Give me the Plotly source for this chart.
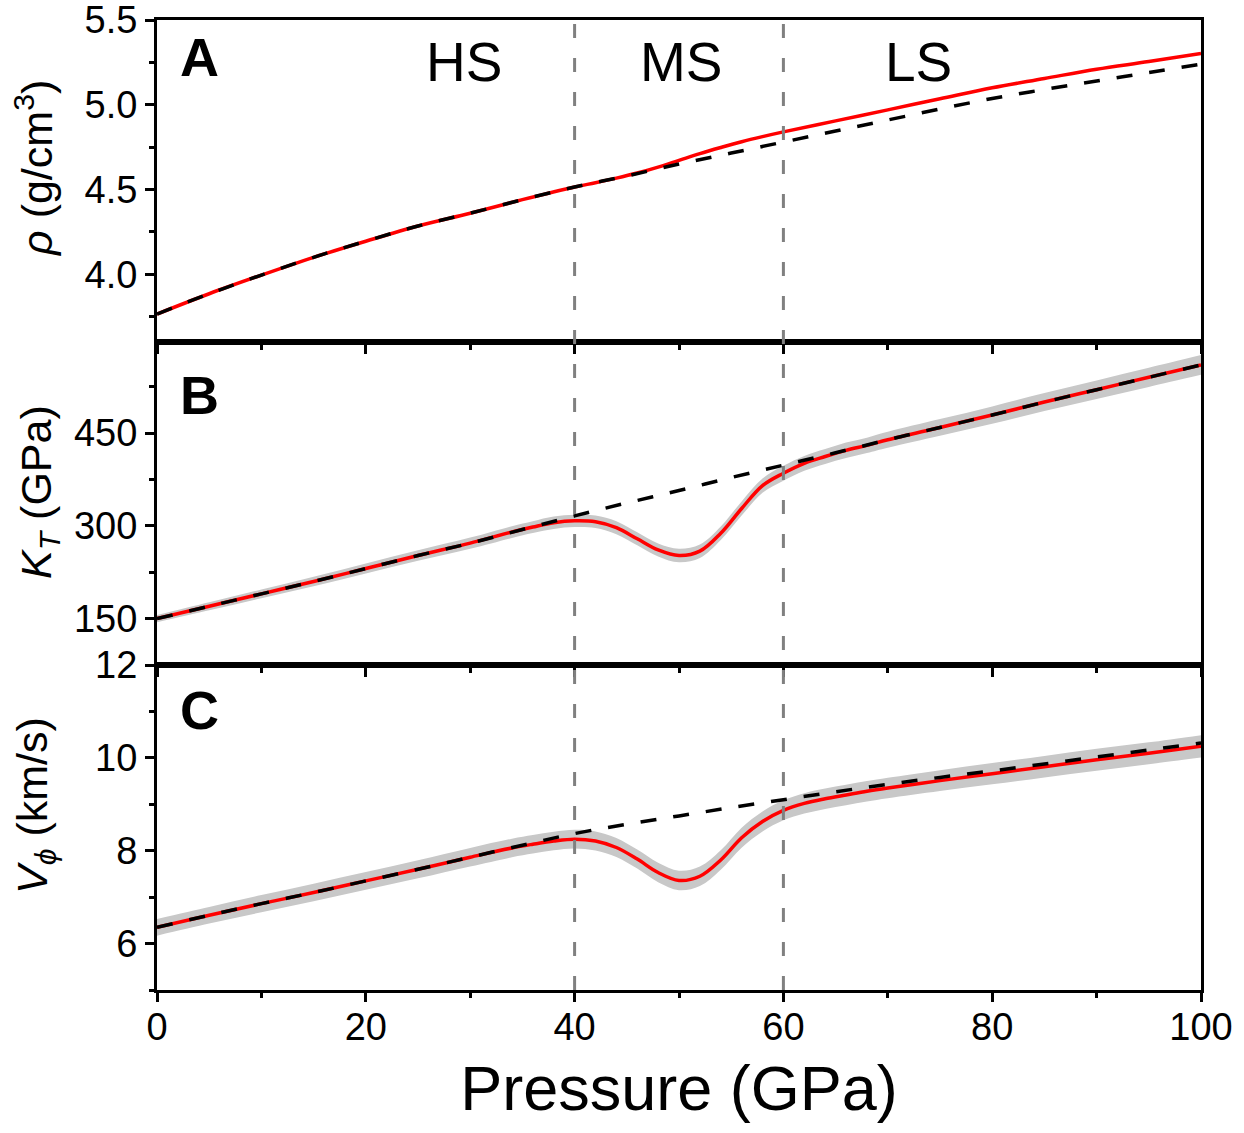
import plotly.graph_objects as go

# ---------------- data ----------------
P_ref = [0, 5, 10, 15, 20, 25, 30, 35, 40, 45, 50, 55, 60, 65, 70, 75, 80, 85, 90, 95, 100]
rho_ref = [3.765, 3.885, 3.995, 4.10, 4.195, 4.285, 4.36, 4.44, 4.515, 4.58, 4.65, 4.715,
           4.78, 4.845, 4.91, 4.975, 5.037, 5.09, 5.14, 5.19, 5.24]
K_ref = [150, 170, 190, 210, 231, 252, 272, 294, 316, 337, 357, 378, 398, 418, 439, 459,
         479, 500, 520, 540, 560]
V_ref = [6.35, 6.61, 6.86, 7.10, 7.35, 7.60, 7.86, 8.12, 8.37, 8.57, 8.75, 8.93, 9.10, 9.27,
         9.43, 9.58, 9.72, 9.87, 10.02, 10.17, 10.32]

P_rho_tr = [0, 5, 10, 15, 20, 25, 30, 35, 40, 42, 44, 46, 48, 50, 52, 54, 56, 58, 60,
            65, 70, 75, 80, 85, 90, 95, 100]
rho_tr = [3.765, 3.885, 3.995, 4.10, 4.195, 4.285, 4.36, 4.44, 4.515, 4.54, 4.567, 4.597,
          4.632, 4.672, 4.712, 4.748, 4.782, 4.812, 4.84, 4.905, 4.97, 5.035, 5.10, 5.155,
          5.21, 5.255, 5.303]

P_tr = [0, 5, 10, 15, 20, 25, 30, 34, 36, 38, 40, 42, 44, 46, 48, 50, 52, 54, 56, 58, 60,
        62, 64, 66, 68, 70, 75, 80, 85, 90, 95, 100]
K_tr = [150, 170, 190, 210, 231, 252, 272, 290, 298, 305, 308, 306.5, 297, 279, 261, 252,
        259, 288, 328, 365, 385, 401, 412, 422, 430, 439, 459, 479, 500, 520, 540, 560]
K_err = [6, 6.5, 7, 7.5, 8, 8.5, 9, 9.5, 9.5, 10, 10, 10, 10.5, 10.5, 10.5, 11, 11, 11,
         11.5, 11.5, 12, 12, 12, 12.5, 12.5, 13, 13.5, 14, 14.5, 15, 15.5, 16]
V_tr = [6.35, 6.61, 6.86, 7.10, 7.35, 7.60, 7.86, 8.06, 8.14, 8.21, 8.25, 8.21, 8.07, 7.82,
        7.53, 7.36, 7.45, 7.80, 8.28, 8.63, 8.87, 9.02, 9.12, 9.20, 9.28, 9.35, 9.51, 9.66,
        9.81, 9.96, 10.10, 10.25]
V_err = [0.18, 0.18, 0.185, 0.19, 0.19, 0.195, 0.2, 0.2, 0.2, 0.2, 0.2, 0.205, 0.205, 0.205,
         0.21, 0.21, 0.21, 0.21, 0.215, 0.215, 0.215, 0.22, 0.22, 0.22, 0.22, 0.22, 0.225,
         0.23, 0.23, 0.235, 0.235, 0.24]

x_ticks = [0, 20, 40, 60, 80, 100]
boundaries = [40, 60]
state_labels = ["HS", "MS", "LS"]
state_pos = [29.4, 50.2, 72.9]
panel_letters = ["A", "B", "C"]
y_titles = ["<i>ρ</i> (g/cm<sup>3</sup>)",
            "<i>K</i><sub><i>T</i></sub> (GPa)",
            "<i>V</i><sub><i>ϕ</i></sub> (km/s)"]

FONT = "Liberation Sans, Arial, sans-serif"
RED = "#ff0000"
BAND = "#c8c8c8"

fig = go.Figure()


def add_band(P, y, err, xa, ya):
    lower = [v - e for v, e in zip(y, err)]
    upper = [v + e for v, e in zip(y, err)]
    fig.add_trace(go.Scatter(x=P, y=lower, mode="lines", line=dict(width=0, shape="spline"),
                             xaxis=xa, yaxis=ya, showlegend=False, hoverinfo="skip"))
    fig.add_trace(go.Scatter(x=P, y=upper, mode="lines", line=dict(width=0, shape="spline"),
                             fill="tonexty", fillcolor=BAND,
                             xaxis=xa, yaxis=ya, showlegend=False, hoverinfo="skip"))


def add_lines(Pr, yr, Pd, yd, xa, ya):
    fig.add_trace(go.Scatter(x=Pr, y=yr, mode="lines",
                             line=dict(color=RED, width=3.5, shape="spline"),
                             xaxis=xa, yaxis=ya, showlegend=False))
    fig.add_trace(go.Scatter(x=Pd, y=yd, mode="lines",
                             line=dict(color="black", width=3.5, dash="16px,17px", shape="spline"),
                             xaxis=xa, yaxis=ya, showlegend=False))


# Panel A
add_lines(P_rho_tr, rho_tr, P_ref, rho_ref, "x", "y")
# Panel B
add_band(P_tr, K_tr, K_err, "x2", "y2")
add_lines(P_tr, K_tr, P_ref, K_ref, "x2", "y2")
# Panel C
add_band(P_tr, V_tr, V_err, "x3", "y3")
add_lines(P_tr, V_tr, P_ref, V_ref, "x3", "y3")

tickfont = dict(family=FONT, size=38, color="black")


def xaxis(anchor, labels):
    d = dict(range=[0, 100], anchor=anchor, showline=True, linewidth=3, linecolor="black",
             mirror=True, ticks="outside", ticklen=9, tickwidth=2.5, tickcolor="black",
             tickvals=x_ticks, showgrid=False, zeroline=False, showticklabels=labels,
             tickfont=tickfont, automargin=False, ticklabeloverflow="allow",
             minor=dict(dtick=10, tick0=0, ticks="outside", ticklen=5, tickwidth=2.5,
                        tickcolor="black", showgrid=False))
    if labels:
        d["ticklabelstandoff"] = -8
        d["title"] = dict(text="Pressure (GPa)", font=dict(family=FONT, size=63, color="black"),
                          standoff=20)
    return d


def yaxis(anchor, dom, rng, dtick, mdtick, fmt=None):
    d = dict(domain=dom, range=rng, anchor=anchor, showline=True, linewidth=3,
             linecolor="black", mirror=True, ticks="outside", ticklen=9, tickwidth=2.5,
             tickcolor="black", dtick=dtick, tick0=0, showgrid=False, zeroline=False,
             tickfont=tickfont, automargin=False, ticklabeloverflow="allow",
             minor=dict(dtick=mdtick, tick0=0, ticks="outside", ticklen=5, tickwidth=2.5,
                        tickcolor="black", showgrid=False))
    if fmt:
        d["tickformat"] = fmt
    return d


shapes = []
for b in boundaries:
    shapes.append(dict(type="line", xref="x3", yref="paper", x0=b, x1=b, y0=0, y1=1,
                       line=dict(color="#808080", width=3, dash="14px,20px"), layer="above"))

annotations = []
for lab, px in zip(state_labels, state_pos):
    annotations.append(dict(text=lab, x=px, y=0.87, xref="x", yref="y domain",
                            xanchor="center", yanchor="middle",
                            showarrow=False, font=dict(family=FONT, size=55, color="black")))
letter_y = [0.885, 0.836, 0.862]
for lab, ya, ly in zip(panel_letters, ["y", "y2", "y3"], letter_y):
    annotations.append(dict(text="<b>%s</b>" % lab, x=4.1, y=ly, xref="x", yref=ya + " domain",
                            xanchor="center", yanchor="middle",
                            showarrow=False, font=dict(family=FONT, size=54, color="black")))
title_x = [-0.118, -0.113, -0.117]
title_y = [0.54, 0.536, 0.569]
for t, ya, tx, ty in zip(y_titles, ["y", "y2", "y3"], title_x, title_y):
    annotations.append(dict(text=t, x=tx, y=ty, xref="paper", yref=ya + " domain",
                            textangle=-90, xanchor="center", yanchor="middle",
                            showarrow=False, font=dict(family=FONT, size=43, color="black")))

fig.update_layout(
    width=1244, height=1133,
    margin=dict(l=157, r=43, t=20, b=143, autoexpand=False),
    paper_bgcolor="white", plot_bgcolor="white",
    xaxis=xaxis("y", False),
    xaxis2=xaxis("y2", False),
    xaxis3=xaxis("y3", True),
    yaxis=yaxis("x", [0.668, 1.0], [3.6, 5.5001], 0.5, 0.25, ".1f"),
    yaxis2=yaxis("x2", [0.335, 0.668], [75, 597], 150, 75),
    yaxis3=yaxis("x3", [0.0, 0.335], [5, 12.0001], 2, 1),
    shapes=shapes,
    annotations=annotations,
    showlegend=False,
)

fig.write_html("out.html", config={"displayModeBar": False},
               post_script="document.body.style.margin='0px';document.body.style.overflow='hidden';")
